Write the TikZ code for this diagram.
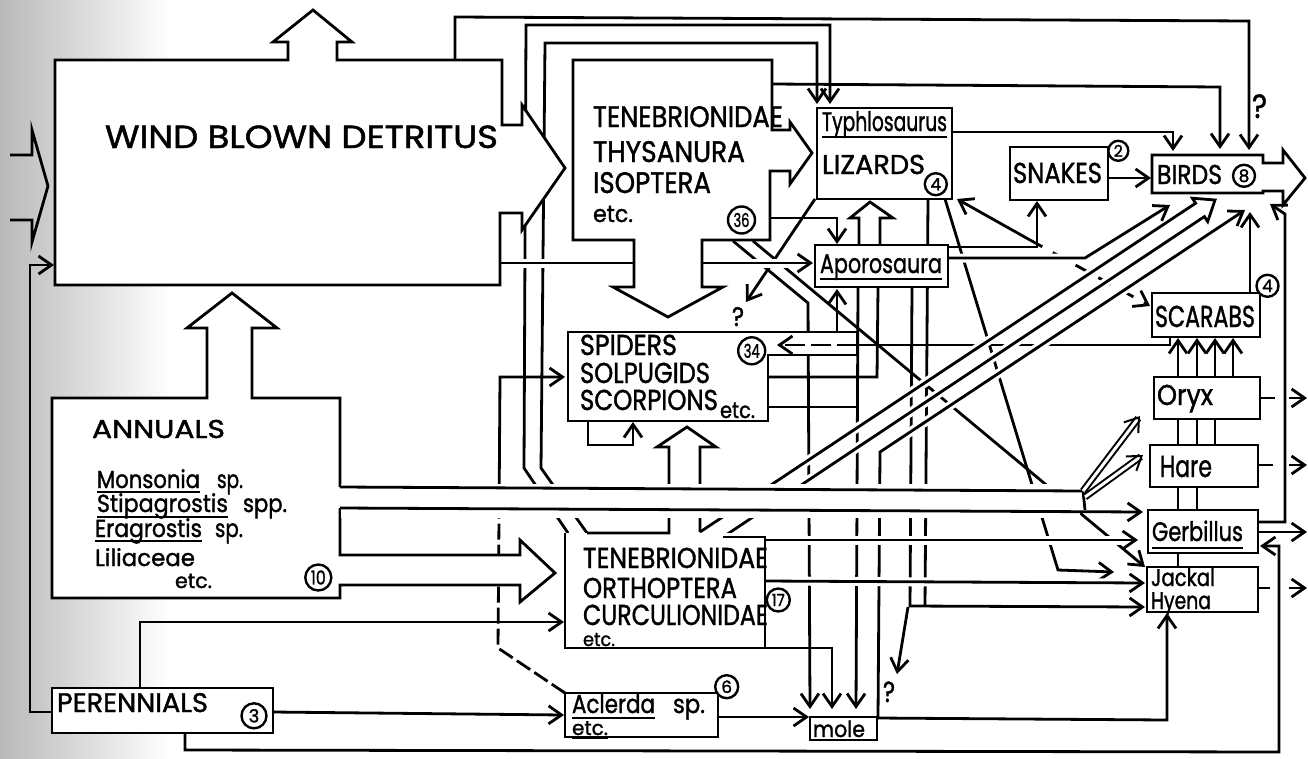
\documentclass[tikz,border=0pt]{standalone}
\usepackage{fontspec}
\setmainfont{Poppins}[FakeBold=1.4]
\usetikzlibrary{arrows.meta}
\newcommand\fitw[2]{\resizebox{#1}{1.12\height}{#2}}
\newcommand\mylab[5]{\node[tx,font=\fontsize{#3}{#3}\selectfont] (#1) at (#2) {\fitw{#4pt}{#5}};}
\begin{document}
\begin{tikzpicture}[x=1pt,y=-1pt,line width=2.8pt,line join=miter,
  bx/.style={draw,fill=white,rectangle,inner sep=0pt,outer sep=0pt},
  ar/.style={-{Straight Barb[length=13pt,width=18pt]}},
  ov/.style={preaction={draw=white,line width=9pt,arrows=-}},
  tx/.style={anchor=base west,inner sep=0pt,outer sep=0pt},
  circ/.style={circle,draw,fill=white,line width=2.4pt,inner sep=0pt},
  dsh/.style={dash pattern=on 16pt off 5pt},
  dbl/.style={double=white,double distance=3pt,line width=2pt},
  ul/.style={line width=2pt}]
\useasboundingbox (0,0) rectangle (1308,758);
\shade[left color=gray!55,middle color=gray!22,right color=white] (0,0) rectangle (170,758);

% ---------------- connectors, group A ----------------
\draw (10,155) -- (32,155) -- (32,130) -- (48,186) -- (32,242) -- (32,220) -- (10,220);
\draw[ar] (52,712) -- (30,712) -- (30,265) -- (54,265);
\draw[ar] (455,60) -- (455,17) -- (1249,21) -- (1249,150);
\draw[ar] (568,533) -- (524,468) -- (526,25) -- (830,25) -- (830,104);
\draw[ar] (587,533) -- (541,468) -- (545,43) -- (817,43) -- (817,104);
\draw[ar] (772,84) -- (1220,87) -- (1220,149);
\draw[ar] (952,132) -- (1173,132) -- (1173,151);
\draw[ar] (1108,178) -- (1151,178);
\draw[ar] (948,247) -- (1037,247) -- (1037,201);
\draw[ar] (1030,240) -- (957,199);
\draw[ar,dash pattern=on 14pt off 12pt] (1030,240) -- (1150,306);
\draw[ar] (770,218) -- (837,218) -- (837,244);
\draw[ar] (768,332) -- (837,332) -- (837,289);
\draw[ar] (815,199) -- (746,302);
\draw[ar] (733,241) -- (808,303) -- (810,709);
\draw[ar] (753,241) -- (1145,567);
\draw[ar] (858,288) -- (856,709);
\draw (768,407) -- (858,407);
\draw (878,288) -- (877,377) -- (768,377);
\draw (1170,337) -- (1170,345) -- (857,345);
\draw[ar] (588,421) -- (588,445) -- (633,445) -- (633,422);
\draw[dsh] (565,693) -- (498,648) -- (499,517);
\draw[ar] (499,517) -- (500,377) -- (565,377);
\draw[ar] (765,648) -- (832,648) -- (832,709);
\draw[ar] (718,717) -- (809,717);
\draw[ar] (273,712) -- (564,715);
\draw[ar] (140,688) -- (140,622) -- (564,622);
\draw[ar] (185,733) -- (185,750) -- (1279,752) -- (1279,546) -- (1260,546);
\draw[ar] (912,288) -- (910,606) -- (1145,607);
\draw (928,199) -- (925,606);
\draw[ar] (908,607) -- (897,674);
\draw[ar] (945,199) -- (1058,570) -- (1114,572);
\draw[ar] (1178,567) -- (1178,338);
\draw[ar] (1197,510) -- (1197,338);
\draw[ar] (1215,445) -- (1215,338);
\draw[ar] (1233,377) -- (1233,338);
\draw (1260,398) -- (1275,398); \draw[ar] (1289,398) -- (1307,398);
\draw (1258,465) -- (1273,465); \draw[ar] (1289,465) -- (1307,465);
\draw (1258,588) -- (1270,588); \draw[ar] (1289,588) -- (1307,588);
\draw[ar] (1258,532) -- (1307,532);

% ---------------- connectors, group B (pass over others) ----------------
\draw[ar,ov] (878,717) -- (880,452) -- (1245,210);
\draw[ov] (700,532) -- (1195.6,203.2) -- (1192.3,198.2) -- (1215,200) -- (1207.7,221.6) -- (1204.4,216.6) -- (723,537);
\draw[ar,ov] (948,258) -- (1085,258) -- (1170,205);
\draw[ar,ov] (500,263) -- (813,263);
\draw[ar,ov] (765,540) -- (1138,540);
\draw[ar,ov] (765,581) -- (1145,583);
\draw[ar] (877,718) -- (1167,720) -- (1167,613);
\draw[ar] (1258,522) -- (1285,522) -- (1285,214) -- (1270,204);
\draw[ar] (1250,293) -- (1250,212);

% ---------------- shapes ----------------
\draw[fill=white] (55,60) -- (288,60) -- (288,42) -- (273,42) -- (313,10) -- (352,42) -- (337,42) -- (337,60) -- (502,60) -- (502,125) -- (522,125) -- (522,105) -- (565,168) -- (522,230) -- (522,213) -- (500,213) -- (500,285) -- (55,285) -- cycle;
\draw[fill=white] (573,60) -- (772,60) -- (772,130) -- (790,130) -- (790,122) -- (812,153) -- (790,184) -- (790,171) -- (770,171) -- (770,240) -- (702,240) -- (702,287) -- (723,287) -- (668,317) -- (613,287) -- (634,287) -- (634,240) -- (573,240) -- cycle;
\fill[white] (52,398) -- (207,398) -- (207,328) -- (187,328) -- (232,293) -- (277,328) -- (252,328) -- (252,398) -- (340,398) -- (340,555) -- (520,555) -- (520,540) -- (555,573) -- (520,602) -- (520,585) -- (340,585) -- (340,598) -- (52,598) -- cycle;
\draw (340,487) -- (340,398) -- (252,398) -- (252,328) -- (277,328) -- (232,293) -- (187,328) -- (207,328) -- (207,398) -- (52,398) -- (52,598) -- (340,598) -- (340,585) -- (520,585) -- (520,602) -- (555,573) -- (520,540) -- (520,555) -- (340,555) -- (340,508);
\fill[white] (565,533) rectangle (765,648);
\draw (587,533) -- (669,533) -- (669,447) -- (657,447) -- (687,427) -- (716,447) -- (700,447) -- (700,532);
\draw (565,533) -- (565,648) -- (765,648) -- (765,537) -- (723,537);
\draw[fill=white] (568,332) -- (857,332) -- (857,355) -- (768,355) -- (768,421) -- (568,421) -- cycle;
\draw[ar,dash pattern=on 20pt off 6pt] (857,345) -- (777,345);
\draw[fill=white] (1152,155) -- (1263,155) -- (1263,163) -- (1283,163) -- (1283,150) -- (1305,178) -- (1283,205) -- (1283,191) -- (1263,191) -- (1263,193) -- (1152,193) -- cycle;
\draw[fill=white] (859,247) -- (859,218) -- (850,218) -- (870,202) -- (893,218) -- (880,218) -- (880,247);
\node[bx,minimum width=135pt,minimum height=91pt] (liz) at (884.5,153.5) {};
\node[bx,minimum width=133pt,minimum height=42pt] (apo) at (881.5,266) {};
\node[bx,minimum width=98pt,minimum height=53pt] (snk) at (1059,173.5) {};
\node[bx,minimum width=108pt,minimum height=44pt] (scr) at (1206,315) {};
\node[bx,minimum width=106pt,minimum height=42pt] (oryx) at (1207,398) {};
\node[bx,minimum width=108pt,minimum height=42pt] (hare) at (1204,466) {};
\node[bx,minimum width=110pt,minimum height=43pt] (gerb) at (1203,531.5) {};
\node[bx,minimum width=111pt,minimum height=45pt] (jack) at (1202.5,589.5) {};
\node[bx,minimum width=67pt,minimum height=23pt] (mole) at (843.5,728.5) {};
\node[bx,minimum width=153pt,minimum height=44pt] (acl) at (641.5,715) {};
\node[bx,minimum width=221pt,minimum height=45pt] (per) at (162.5,710.5) {};

% ---------------- band from annuals ----------------
\fill[white] (341,484) rectangle (1080,518);
\draw (340,487) -- (1083,491) -- (1085,510);
\draw[ar] (340,508) -- (1143,512);
\draw[dbl,ar] (1083,491) -- (1140,416);
\draw[dbl,ar] (1085,497) -- (1143,455);

% ---------------- texts ----------------
\mylab{tdet}{105,148}{28.6}{393}{WIND BLOWN DETRITUS}
\mylab{tt1}{593,127}{26.5}{190}{TENEBRIONIDAE}
\mylab{tt2}{593,162}{26.5}{152}{THYSANURA}
\mylab{tt3}{593,193}{26.5}{118}{ISOPTERA}
\mylab{tt4}{593,222}{21}{40}{etc.}
\mylab{ttyp}{822,131}{24}{125}{Typhlosaurus}
\draw[ul] (822,137) -- (947,137);
\mylab{tliz}{822,174}{24.3}{103}{LIZARDS}
\mylab{tsnk}{1013,183}{25.7}{89}{SNAKES}
\mylab{tbrd}{1157,184}{24.3}{65}{BIRDS}
\mylab{tapo}{820,273}{24}{122}{Aporosaura}
\draw[ul] (820,279) -- (942,279);
\mylab{tsp1}{580,355}{25.7}{97}{SPIDERS}
\mylab{tsp2}{580,383}{25.7}{130}{SOLPUGIDS}
\mylab{tsp3}{580,410}{25.7}{138}{SCORPIONS}
\mylab{tsp4}{720,418}{20}{35}{etc.}
\mylab{tscr}{1155,327}{27}{100}{SCARABS}
\mylab{toryx}{1157,405}{25.7}{56}{Oryx}
\mylab{thare}{1160,477}{27}{52}{Hare}
\mylab{tgerb}{1152,541}{24}{91}{Gerbillus}
\draw[ul] (1152,548) -- (1243,548);
\mylab{tjac}{1151,586}{21.5}{64}{Jackal}
\mylab{thye}{1151,609}{21.5}{60}{Hyena}
\mylab{tmole}{813,737}{20}{52}{mole}
\mylab{tacl}{572,713}{23}{83}{Aclerda}
\draw[ul] (572,718) -- (655,718);
\mylab{tacs}{673,713}{23}{32}{sp.}
\mylab{tace}{572,735}{18}{36}{etc.}
\draw[ul] (572,738) -- (608,738);
\mylab{tl1}{583,568}{25.7}{185}{TENEBRIONIDAE}
\mylab{tl2}{583,598}{25.7}{154}{ORTHOPTERA}
\mylab{tl3}{583,625}{25.7}{185}{CURCULIONIDAE}
\mylab{tl4}{583,646}{17}{32}{etc.}
\mylab{tann}{92,438}{23}{133}{ANNUALS}
\mylab{ta1}{97,488}{22}{103}{Monsonia}
\draw[ul] (97,492) -- (200,492);
\mylab{ta1s}{217,488}{22}{26}{sp.}
\mylab{ta2}{97,512}{22}{131}{Stipagrostis}
\draw[ul] (97,517) -- (228,517);
\mylab{ta2s}{243,512}{22}{44}{spp.}
\mylab{ta3}{95,537}{22}{107}{Eragrostis}
\draw[ul] (95,541) -- (202,541);
\mylab{ta3s}{215,537}{22}{28}{sp.}
\mylab{ta4}{95,566}{21}{100}{Liliaceae}
\mylab{ta5}{175,588}{18.5}{37}{etc.}
\mylab{tper}{57,712}{24}{151}{PERENNIALS}
\mylab{q1}{1252,118}{30}{15}{?}
\mylab{q2}{732,326}{24}{12}{?}
\mylab{q3}{883,702}{26}{12}{?}

\node[circ,minimum size=27pt,font=\fontsize{17}{17}\selectfont] (c36) at (741.5,220) {\fitw{16pt}{36}};
\node[circ,minimum size=27pt,font=\fontsize{17}{17}\selectfont] (c34) at (751.7,350.8) {\fitw{16pt}{34}};
\node[circ,minimum size=23pt,font=\fontsize{15}{15}\selectfont] (c17) at (778.3,600) {\fitw{13pt}{17}};
\node[circ,minimum size=23pt,font=\fontsize{17}{17}\selectfont] (c6) at (726.7,686.7) {6};
\node[circ,minimum size=26pt,font=\fontsize{17}{17}\selectfont] (c10) at (318.3,577.5) {\fitw{15pt}{10}};
\node[circ,minimum size=25pt,font=\fontsize{18}{18}\selectfont] (c3) at (254,715.8) {3};
\node[circ,minimum size=22pt,font=\fontsize{17}{17}\selectfont] (c4a) at (935.8,184.2) {4};
\node[circ,minimum size=20pt,font=\fontsize{16}{16}\selectfont] (c2) at (1118.3,150.8) {2};
\node[circ,minimum size=22pt,font=\fontsize{17}{17}\selectfont] (c8) at (1244,175.8) {8};
\node[circ,minimum size=22pt,font=\fontsize{17}{17}\selectfont] (c4b) at (1267.5,285.8) {4};
\end{tikzpicture}
\end{document}
